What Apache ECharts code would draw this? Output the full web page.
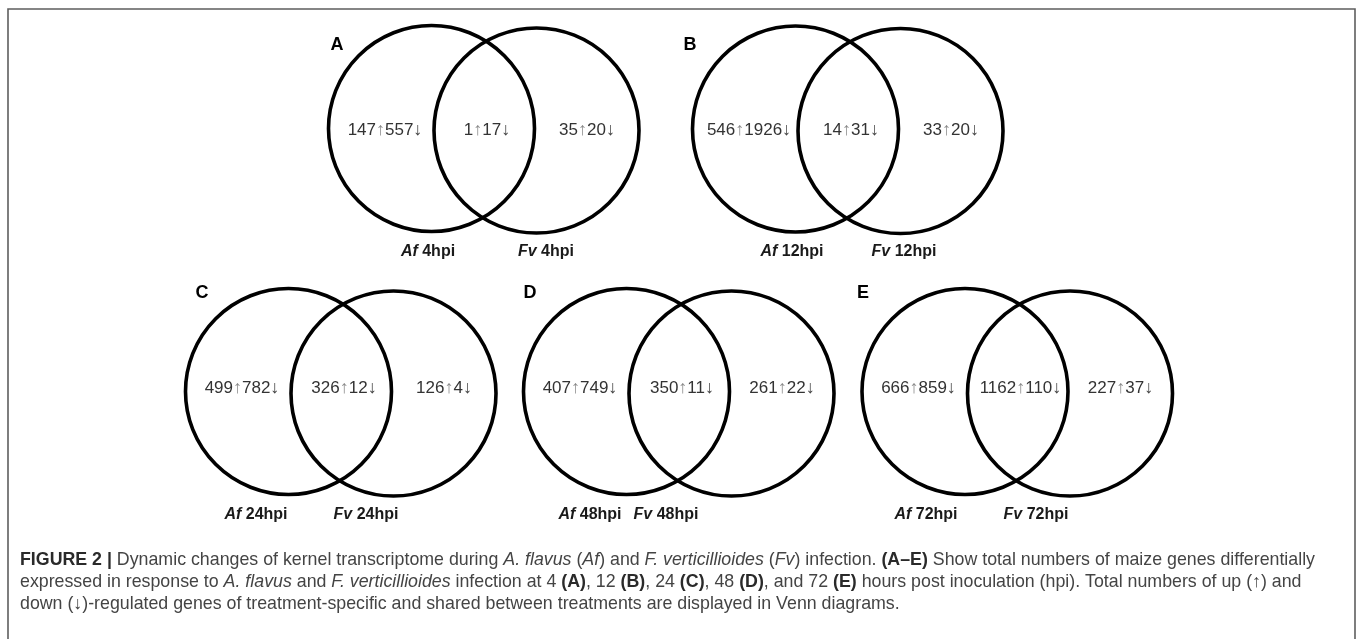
<!DOCTYPE html>
<html>
<head>
<meta charset="utf-8">
<script src="https://cdn.jsdelivr.net/npm/echarts@6/dist/echarts.min.js"></script>
<style>
  html, body { margin: 0; padding: 0; background: #fff; }
  #chart { width: 1358px; height: 639px; }
</style>
</head>
<body>
<div id="chart"></div>
<script>
// Differentially expressed genes per time point (up / down counts)
const panels     = ['A', 'B', 'C', 'D', 'E'];
const hours      = [4, 12, 24, 48, 72];
const afUp       = [147, 546, 499, 407, 666];
const afDown     = [557, 1926, 782, 749, 859];
const sharedUp   = [1, 14, 326, 350, 1162];
const sharedDown = [17, 31, 12, 11, 110];
const fvUp       = [35, 33, 126, 261, 227];
const fvDown     = [20, 20, 4, 22, 37];

// Placement of each diagram on a page-sized hidden coordinate system
const layout = {
  mid:      [[484, 129.5], [848, 130], [341, 392.5], [679, 392.5], [1017.5, 392.5]],
  letter:   [[337, 45], [690, 45], [202, 293], [530, 293], [863, 293]],
  labelY:   [252, 252, 515, 515, 515],
  afLabelX: [428, 792, 256, 590, 926],
  fvLabelX: [546, 904, 366, 666, 1036],
  countY:   [130, 130, 388, 388, 388],
  countDx:  [-99, 3, 103],
  radius: 103,
  halfGap: 52.5
};

const countFont = '"Liberation Sans", Arial, sans-serif';
const countRich = {
  u: { fill: '#8a8a8a', fontSize: 18, fontFamily: countFont },
  d: { fill: '#444', fontSize: 18, fontFamily: countFont }
};

function countText(up, down) {
  return up + '{u|\u2191}' + down + '{d|\u2193}';
}

function renderVenn(params, api) {
  const i = api.value(2);
  const c = api.coord([api.value(0), api.value(1)]);
  const r = api.size([layout.radius, 0])[0];
  const h = api.size([layout.halfGap, 0])[0];
  const children = [];

  children.push({ type: 'circle', shape: { cx: c[0] - h, cy: c[1] - 1, r: r },
    style: { fill: 'none', stroke: '#000', lineWidth: 3.6 } });
  children.push({ type: 'circle', shape: { cx: c[0] + h, cy: c[1] + 1, r: r - 0.5 },
    style: { fill: 'none', stroke: '#000', lineWidth: 3.6 } });

  const counts = [
    countText(afUp[i], afDown[i]),
    countText(sharedUp[i], sharedDown[i]),
    countText(fvUp[i], fvDown[i])
  ];
  counts.forEach(function (t, k) {
    const p = api.coord([api.value(0) + layout.countDx[k], layout.countY[i]]);
    children.push({ type: 'text', x: p[0], y: p[1],
      style: { text: t, rich: countRich, fill: '#333', fontSize: 17, fontFamily: countFont,
               align: 'center', verticalAlign: 'middle' } });
  });

  const lp = api.coord(layout.letter[i]);
  children.push({ type: 'text', x: lp[0], y: lp[1],
    style: { text: panels[i], fill: '#000', fontSize: 18, fontWeight: 'bold',
             fontFamily: countFont, align: 'center', verticalAlign: 'middle' } });

  const labelRich = {
    sp: { fontSize: 16, fontWeight: 'bold', fontStyle: 'italic', fill: '#1a1a1a', fontFamily: countFont },
    t:  { fontSize: 16, fontWeight: 'bold', fill: '#1a1a1a', fontFamily: countFont }
  };
  const ap = api.coord([layout.afLabelX[i], layout.labelY[i]]);
  const fp = api.coord([layout.fvLabelX[i], layout.labelY[i]]);
  children.push({ type: 'text', x: ap[0], y: ap[1],
    style: { text: '{sp|Af }{t|' + hours[i] + 'hpi}', rich: labelRich,
             align: 'center', verticalAlign: 'middle' } });
  children.push({ type: 'text', x: fp[0], y: fp[1],
    style: { text: '{sp|Fv }{t|' + hours[i] + 'hpi}', rich: labelRich,
             align: 'center', verticalAlign: 'middle' } });

  return { type: 'group', children: children };
}

const capFont = '"Liberation Sans", Arial, sans-serif';
const capSize = 17.8;
const capRich = {
  n:  { fontSize: capSize, fill: '#444', fontFamily: capFont },
  b:  { fontSize: capSize, fill: '#2a2a2a', fontWeight: 'bold', fontFamily: capFont },
  i:  { fontSize: capSize, fill: '#444', fontStyle: 'italic', fontFamily: capFont }
};
const captionLines = [
  '{b|FIGURE 2 |}{n| Dynamic changes of kernel transcriptome during }{i|A. flavus}{n| (}{i|Af}{n|) and }{i|F. verticillioides}{n| (}{i|Fv}{n|) infection. }{b|(A\u2013E)}{n| Show total numbers of maize genes differentially}',
  '{n|expressed in response to }{i|A. flavus}{n| and }{i|F. verticillioides}{n| infection at 4 }{b|(A)}{n|, 12 }{b|(B)}{n|, 24 }{b|(C)}{n|, 48 }{b|(D)}{n|, and 72 }{b|(E)}{n| hours post inoculation (hpi). Total numbers of up (\u2191) and}',
  '{n|down (\u2193)-regulated genes of treatment-specific and shared between treatments are displayed in Venn diagrams.}'
];

const graphics = [
  { type: 'polyline', silent: true,
    shape: { points: [[8, 660], [8, 9], [1355, 9], [1355, 660]] },
    style: { fill: 'none', stroke: '#5e5e5e', lineWidth: 1.6 } }
];
captionLines.forEach(function (t, k) {
  graphics.push({ type: 'text', x: 20, y: 560 + k * 22,
    style: { text: t, rich: capRich, fill: '#444', fontSize: capSize, fontFamily: capFont,
             verticalAlign: 'middle' } });
});

const chart = echarts.init(document.getElementById('chart'), null, { renderer: 'canvas' });
chart.setOption({
  backgroundColor: '#fff',
  animation: false,
  grid: { left: 0, right: 0, top: 0, bottom: 0 },
  xAxis: { type: 'value', min: 0, max: 1358, show: false },
  yAxis: { type: 'value', min: 0, max: 639, inverse: true, show: false },
  graphic: graphics,
  series: [{
    type: 'custom',
    renderItem: renderVenn,
    clip: false,
    data: panels.map(function (p, i) { return [layout.mid[i][0], layout.mid[i][1], i]; })
  }]
});
</script>
</body>
</html>
